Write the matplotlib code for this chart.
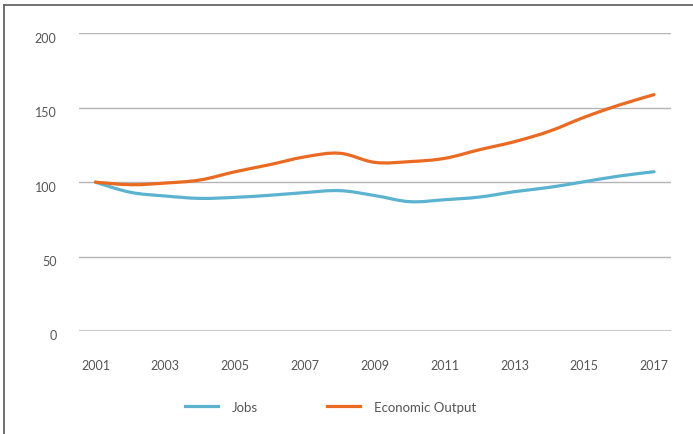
import matplotlib
matplotlib.use('Agg')
import matplotlib.pyplot as plt
import matplotlib.transforms as mtransforms
from matplotlib.lines import Line2D
from matplotlib.path import Path
from matplotlib.patches import PathPatch

years = list(range(2001, 2018))
jobs = [100, 93.2, 90.7, 89.1, 89.8, 91.2, 93.0, 94.3, 91.0, 86.9, 88.2, 90.0, 93.6, 96.5, 100.3, 104.1, 107.0]
output = [100, 98.3, 99.4, 101.5, 107.0, 111.8, 117.0, 119.4, 113.3, 113.8, 116.0, 121.8, 127.2, 134.2, 143.6, 151.8, 158.8]
xticks = list(range(2001, 2018, 2))
yticks = [0, 50, 100, 150, 200]

blue = '#5bb3d0'
orange = '#e96a20'
txt = '#555555'

plt.rcParams['font.family'] = ['Lato', 'DejaVu Sans']


def smooth_path(x, y, k=0.18):
    # cardinal-spline style bezier through the data points
    verts = [(x[0], y[0])]
    codes = [Path.MOVETO]
    n = len(x)
    for i in range(n - 1):
        x0, y0 = (x[i - 1], y[i - 1]) if i > 0 else (x[i], y[i])
        x3, y3 = (x[i + 2], y[i + 2]) if i + 2 < n else (x[i + 1], y[i + 1])
        c1 = (x[i] + (x[i + 1] - x0) * k, y[i] + (y[i + 1] - y0) * k)
        c2 = (x[i + 1] - (x3 - x[i]) * k, y[i + 1] - (y3 - y[i]) * k)
        verts += [c1, c2, (x[i + 1], y[i + 1])]
        codes += [Path.CURVE4] * 3
    return Path(verts, codes)


fig = plt.figure(figsize=(6.93, 4.35), dpi=100)
ax = fig.add_axes([0.1136, 0.2368, 0.8544, 0.6843])

for v in yticks:
    if v == 0:
        ax.axhline(v, color='#cccccc', lw=1.6, zorder=1)
    else:
        ax.axhline(v, color='#b5b5b5', lw=1.0, zorder=1)

for vals, col, lab in [(jobs, blue, 'Jobs'), (output, orange, 'Economic Output')]:
    ax.add_patch(PathPatch(smooth_path(years, vals), facecolor='none', edgecolor=col,
                           lw=2.3, joinstyle='round', capstyle='round', zorder=3))
    ax.plot([], [], color=col, lw=2.3, label=lab)

ax.set_xlim(2000.52, 2017.48)
ax.set_ylim(0, 200)
ax.set_xticks(xticks)
ax.set_xticklabels([str(x) for x in xticks])
ax.set_yticks(yticks)
ax.tick_params(length=0, labelsize=9, colors=txt)
ax.tick_params(axis='x', pad=20)
ax.tick_params(axis='y', pad=16)
for s in ax.spines.values():
    s.set_visible(False)

# y labels sit a bit below their gridline
off = mtransforms.ScaledTranslation(0, -2.5 / 72, fig.dpi_scale_trans)
for lab in ax.get_yticklabels():
    lab.set_transform(lab.get_transform() + off)

leg = fig.legend(loc='center', bbox_to_anchor=(0.477, 0.062), ncol=2, frameon=False,
                 fontsize=9.5, handlelength=2.5, handletextpad=1.05, columnspacing=5.2)
for t in leg.get_texts():
    t.set_color(txt)

# frame edge at top and left
fig.add_artist(Line2D([4 / 693, 4 / 693], [0, 1 - 6 / 435], transform=fig.transFigure, color='#666666', lw=1.3))
fig.add_artist(Line2D([4 / 693, 1], [1 - 6 / 435, 1 - 6 / 435], transform=fig.transFigure, color='#666666', lw=1.3))

fig.savefig('out.png', dpi=100)
